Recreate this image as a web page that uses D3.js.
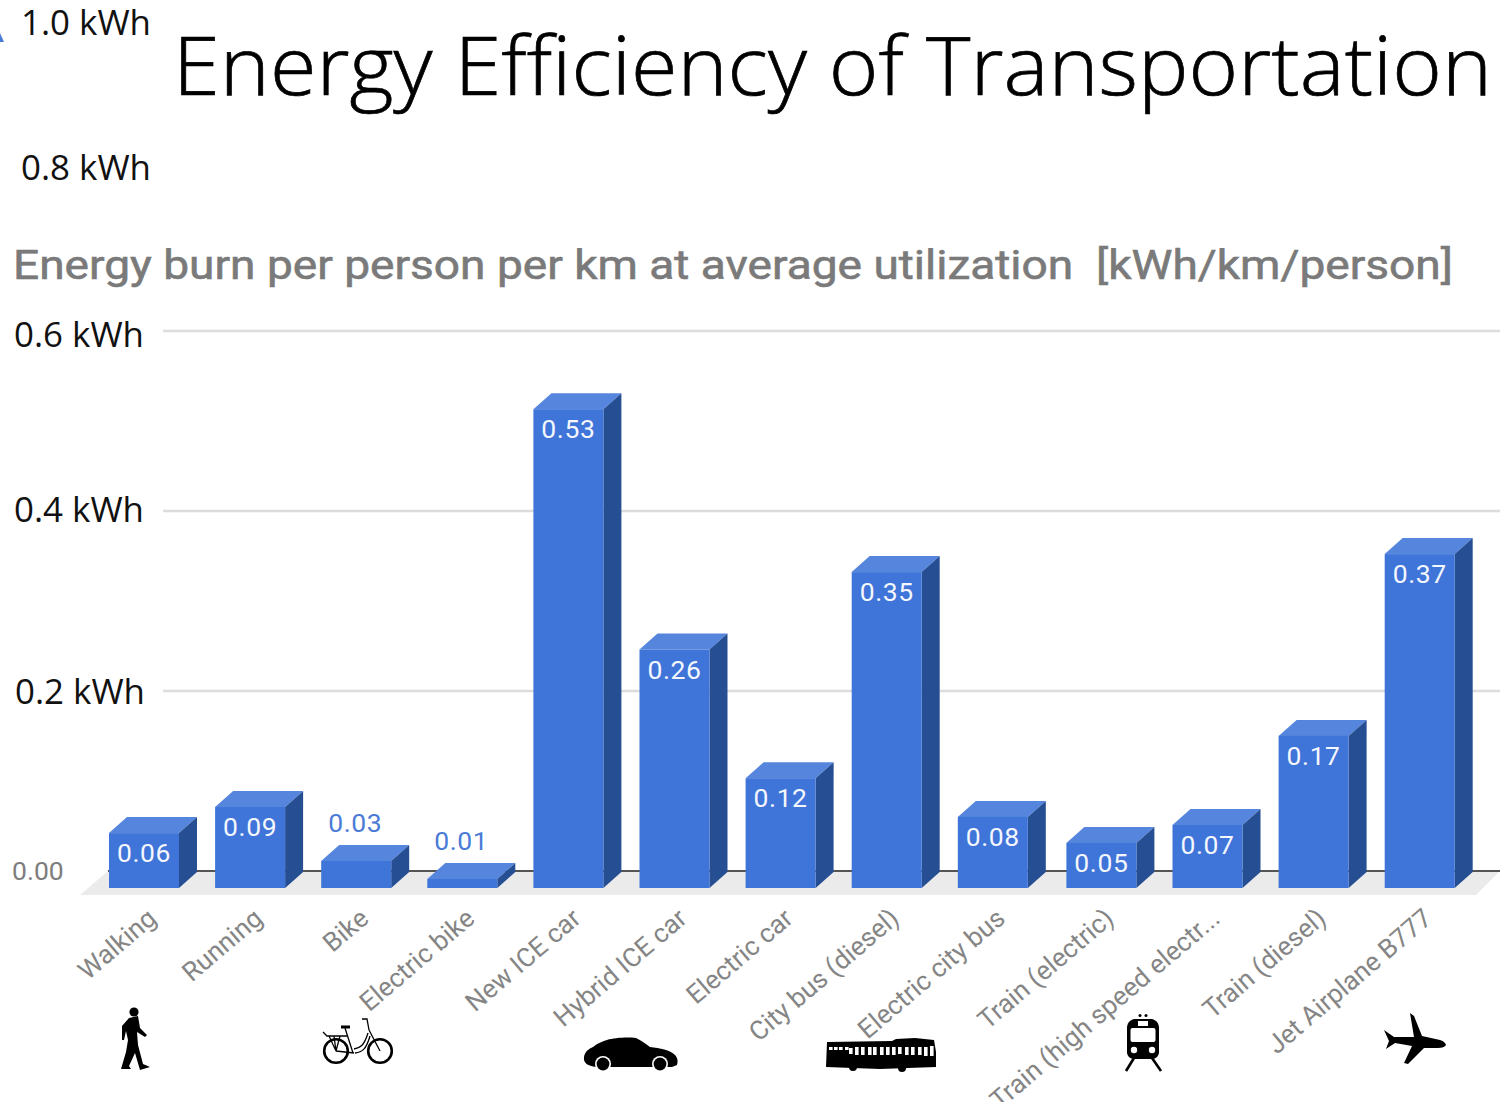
<!DOCTYPE html>
<html><head><meta charset="utf-8">
<script src="https://cdn.jsdelivr.net/npm/d3@7"></script>
<style>html,body{margin:0;padding:0;background:#fff;overflow:hidden}svg{display:block}</style>
</head><body><svg id="c" width="1503" height="1102"></svg>
<script>
const categories = ["Walking","Running","Bike","Electric bike","New ICE car","Hybrid ICE car","Electric car","City bus (diesel)","Electric city bus","Train (electric)","Train (high speed electr...","Train (diesel)","Jet Airplane B777"];
const values = [0.061,0.09,0.03,0.01,0.532,0.265,0.122,0.351,0.079,0.05,0.07,0.169,0.371];
const valueLabels = ["0.06","0.09","0.03","0.01","0.53","0.26","0.12","0.35","0.08","0.05","0.07","0.17","0.37"];
const gridTicks = [0.2,0.4,0.6];
const unitLabels = ["1.0 kWh","0.8 kWh","0.6 kWh","0.4 kWh","0.2 kWh"];
const titleText = "Energy Efficiency of Transportation";
const subtitleText = "Energy burn per person per km at average utilization  [kWh/km/person]";

const svg = d3.select("#c");
const roboto = "Roboto, sans-serif", humanist = "'Open Sans','Noto Sans',sans-serif";
const band = d3.scaleBand().domain(categories).range([109,1452.2]).paddingInner(0.3402).paddingOuter(0);
// the reference's last four bars sit slightly further right than the even step
const x = c => band(c) + (categories.indexOf(c) >= 9 ? 2.5 : 0);
const bw = band.bandwidth();
const yFront = d3.scaleLinear().domain([0,0.6]).range([888,348]);
const yBack = d3.scaleLinear().domain([0,0.6]).range([871,331]);
const dx = 18, dy = 16;

// floor
svg.append("path").attr("d","M80 895L108 871L1500 871L1476 895Z").attr("fill","#ebebeb");
// gridlines
svg.append("g").selectAll("line").data(gridTicks).join("line")
  .attr("x1",163).attr("x2",1500).attr("y1",d=>yBack(d)).attr("y2",d=>yBack(d))
  .attr("stroke","#dcdcdc").attr("stroke-width",2.4);
svg.append("line").attr("x1",108).attr("x2",1500).attr("y1",yBack(0)).attr("y2",yBack(0)).attr("stroke","#555").attr("stroke-width",2);

// bars
const bars = svg.append("g").selectAll("g").data(categories.map((c,i)=>({c,v:values[i],l:valueLabels[i]}))).join("g");
bars.each(function(d){
  const g = d3.select(this), l = x(d.c), r = l + bw, t = yFront(d.v), b = yFront(0);
  g.append("path").attr("fill","#5585dc").attr("d",`M${l} ${t}L${l+dx} ${t-dy}L${r+dx} ${t-dy}L${r} ${t}Z`);
  g.append("path").attr("fill","#264f93").attr("d",`M${r} ${t}L${r+dx} ${t-dy}L${r+dx} ${b-dy}L${r} ${b}Z`);
  g.append("rect").attr("x",l).attr("y",t).attr("width",bw).attr("height",b-t).attr("fill","#3f74d8");
  const inside = d.v >= 0.04;
  g.append("text").text(d.l).attr("x",l+bw/2-(inside?0:1)).attr("y",inside?t+29:t-29)
    .attr("text-anchor","middle").attr("font-family",roboto).attr("font-size",26.5)
    .attr("letter-spacing",0.6).attr("fill",inside?"#f4f7fd":"#4a7bd6");
});

// category labels
svg.append("g").selectAll("text").data(categories).join("text").text(d=>d)
  .attr("transform",d=>`translate(${x(d)+bw/2+14},${921}) rotate(-40.5)`)
  .attr("text-anchor","end").attr("font-family",roboto).attr("font-size",26.2).attr("fill","#858585");

// zero label
svg.append("text").text("0.00").attr("x",12).attr("y",880).attr("font-family",roboto).attr("font-size",26.5).attr("fill","#7d7d7d");

// pasted y labels
const unitPos = [[21,35],[21,180],[14,347],[14,522],[15,704]];
svg.append("g").selectAll("text").data(unitLabels).join("text").text(d=>d)
  .attr("x",(d,i)=>unitPos[i][0]).attr("y",(d,i)=>unitPos[i][1])
  .attr("font-family",humanist).attr("font-size",34).attr("fill","#111")
  .attr("textLength",130).attr("lengthAdjust","spacingAndGlyphs");

// titles
svg.append("text").text(titleText).attr("x",173).attr("y",95).attr("font-family",humanist).attr("font-size",82)
  .attr("font-weight",300).attr("fill","#000").attr("stroke","#000").attr("stroke-width",0.7)
  .attr("textLength",1319).attr("lengthAdjust","spacingAndGlyphs");
svg.append("text").text(subtitleText).attr("x",13).attr("y",279).attr("font-family",roboto).attr("font-size",40)
  .attr("font-weight",400).attr("fill","#7a7a7a").attr("stroke","#7a7a7a").attr("stroke-width",0.6)
  .style("white-space","pre").attr("xml:space","preserve")
  .attr("textLength",1440).attr("lengthAdjust","spacingAndGlyphs");

// corner fragment
svg.append("path").attr("d","M0 33L4 42L0 42Z").attr("fill","#4a7bd6");

// icons
const icons = svg.append("g").attr("fill","#000");
// walker
icons.append("circle").attr("cx",134).attr("cy",1012).attr("r",4.6);
icons.append("path").attr("d","M129 1018L138 1016L140 1028L147 1035L145 1037L137 1032L138 1045L143 1064L150 1067L140 1070L135 1053L129 1066L131 1069L121 1069L126 1052L128 1040L126 1031L124 1040L122 1040L122 1026Z");
// bike
const bike = svg.append("g").attr("fill","none").attr("stroke","#000");
[[336,1051],[380,1051]].forEach(p=>bike.append("circle").attr("cx",p[0]).attr("cy",p[1]).attr("r",11.8).attr("stroke-width",2.6));
bike.append("path").attr("stroke-width",1.3).attr("d","M336 1051L354 1053M345 1028L353 1053M368 1033C364 1046 360 1048 354 1049M370 1036C366 1050 362 1052 355 1053M369 1030L380 1051M369 1030L367 1019L362 1019M323 1032L327 1036L347 1036M329 1036L336 1051M334 1036L336 1051M340 1036L336 1051");
bike.append("path").attr("stroke-width",3).attr("d","M341 1027L350 1027");
// car
icons.append("path").attr("d","M584 1057C585 1051 589 1049 593 1047C598 1043 603 1041 607 1040C614 1038 626 1037 636 1038C642 1041 646 1044 650 1047C660 1048 670 1050 675 1055C678 1058 678 1062 677 1065L672 1067L596 1067C588 1066 583 1063 584 1057Z");
[[603,1064],[660,1064]].forEach(p=>{
  icons.append("circle").attr("cx",p[0]).attr("cy",p[1]).attr("r",8).attr("fill","#fff");
  icons.append("circle").attr("cx",p[0]).attr("cy",p[1]).attr("r",6.4);
});
// bus
icons.append("path").attr("d","M827 1042L892 1041L896 1039L915 1038L934 1040L936 1052L936 1067L880 1069L826 1067Z");
const busWindows = [[829,1047,3],[834,1047,3],[839,1047,3],[845,1047,3],[849,1048,6],[855,1047,8],[861,1047,8],[868,1047,8],[873,1047,8],[880,1047,8],[886,1047,8],[892,1047,8],[898,1047,7],[905,1047,8],[911,1047,8],[918,1047,8],[924,1047,9],[930,1046,10]];
icons.append("g").selectAll("rect").data(busWindows).join("rect")
  .attr("x",d=>d[0]).attr("y",d=>d[1]).attr("width",3.6).attr("height",d=>d[2]).attr("fill","#fff");
[[853,1067],[902,1068]].forEach(p=>icons.append("circle").attr("cx",p[0]).attr("cy",p[1]).attr("r",4));
// train
icons.append("path").attr("d","M1134 1019L1152 1019C1156 1020 1159 1023 1159 1028L1159 1052C1159 1056 1156 1059 1152 1059L1134 1059C1130 1059 1127 1056 1127 1052L1127 1028C1127 1023 1130 1020 1134 1019Z");
icons.append("rect").attr("x",1130.5).attr("y",1028).attr("width",25).attr("height",14).attr("rx",2).attr("fill","#fff");
icons.append("rect").attr("x",1138).attr("y",1021).attr("width",10).attr("height",5).attr("fill","#fff");
[[1134,1050],[1152,1050]].forEach(p=>icons.append("circle").attr("cx",p[0]).attr("cy",p[1]).attr("r",3.2).attr("fill","#fff"));
[[1140,1015.5],[1146,1015.5]].forEach(p=>icons.append("circle").attr("cx",p[0]).attr("cy",p[1]).attr("r",1.5));
icons.append("path").attr("fill","none").attr("stroke","#000").attr("stroke-width",2.6).attr("d","M1134 1058L1126 1071M1152 1058L1161 1071");
// plane
icons.append("path").attr("d","M1410 1013L1414 1016L1422 1036L1440 1040C1444 1041 1446 1044 1446 1045C1445 1047 1442 1048 1438 1048L1424 1048L1408 1064L1404 1063L1412 1046L1395 1043L1386 1049L1389 1041L1384 1030L1394 1037L1414 1037Z");
</script></body></html>
